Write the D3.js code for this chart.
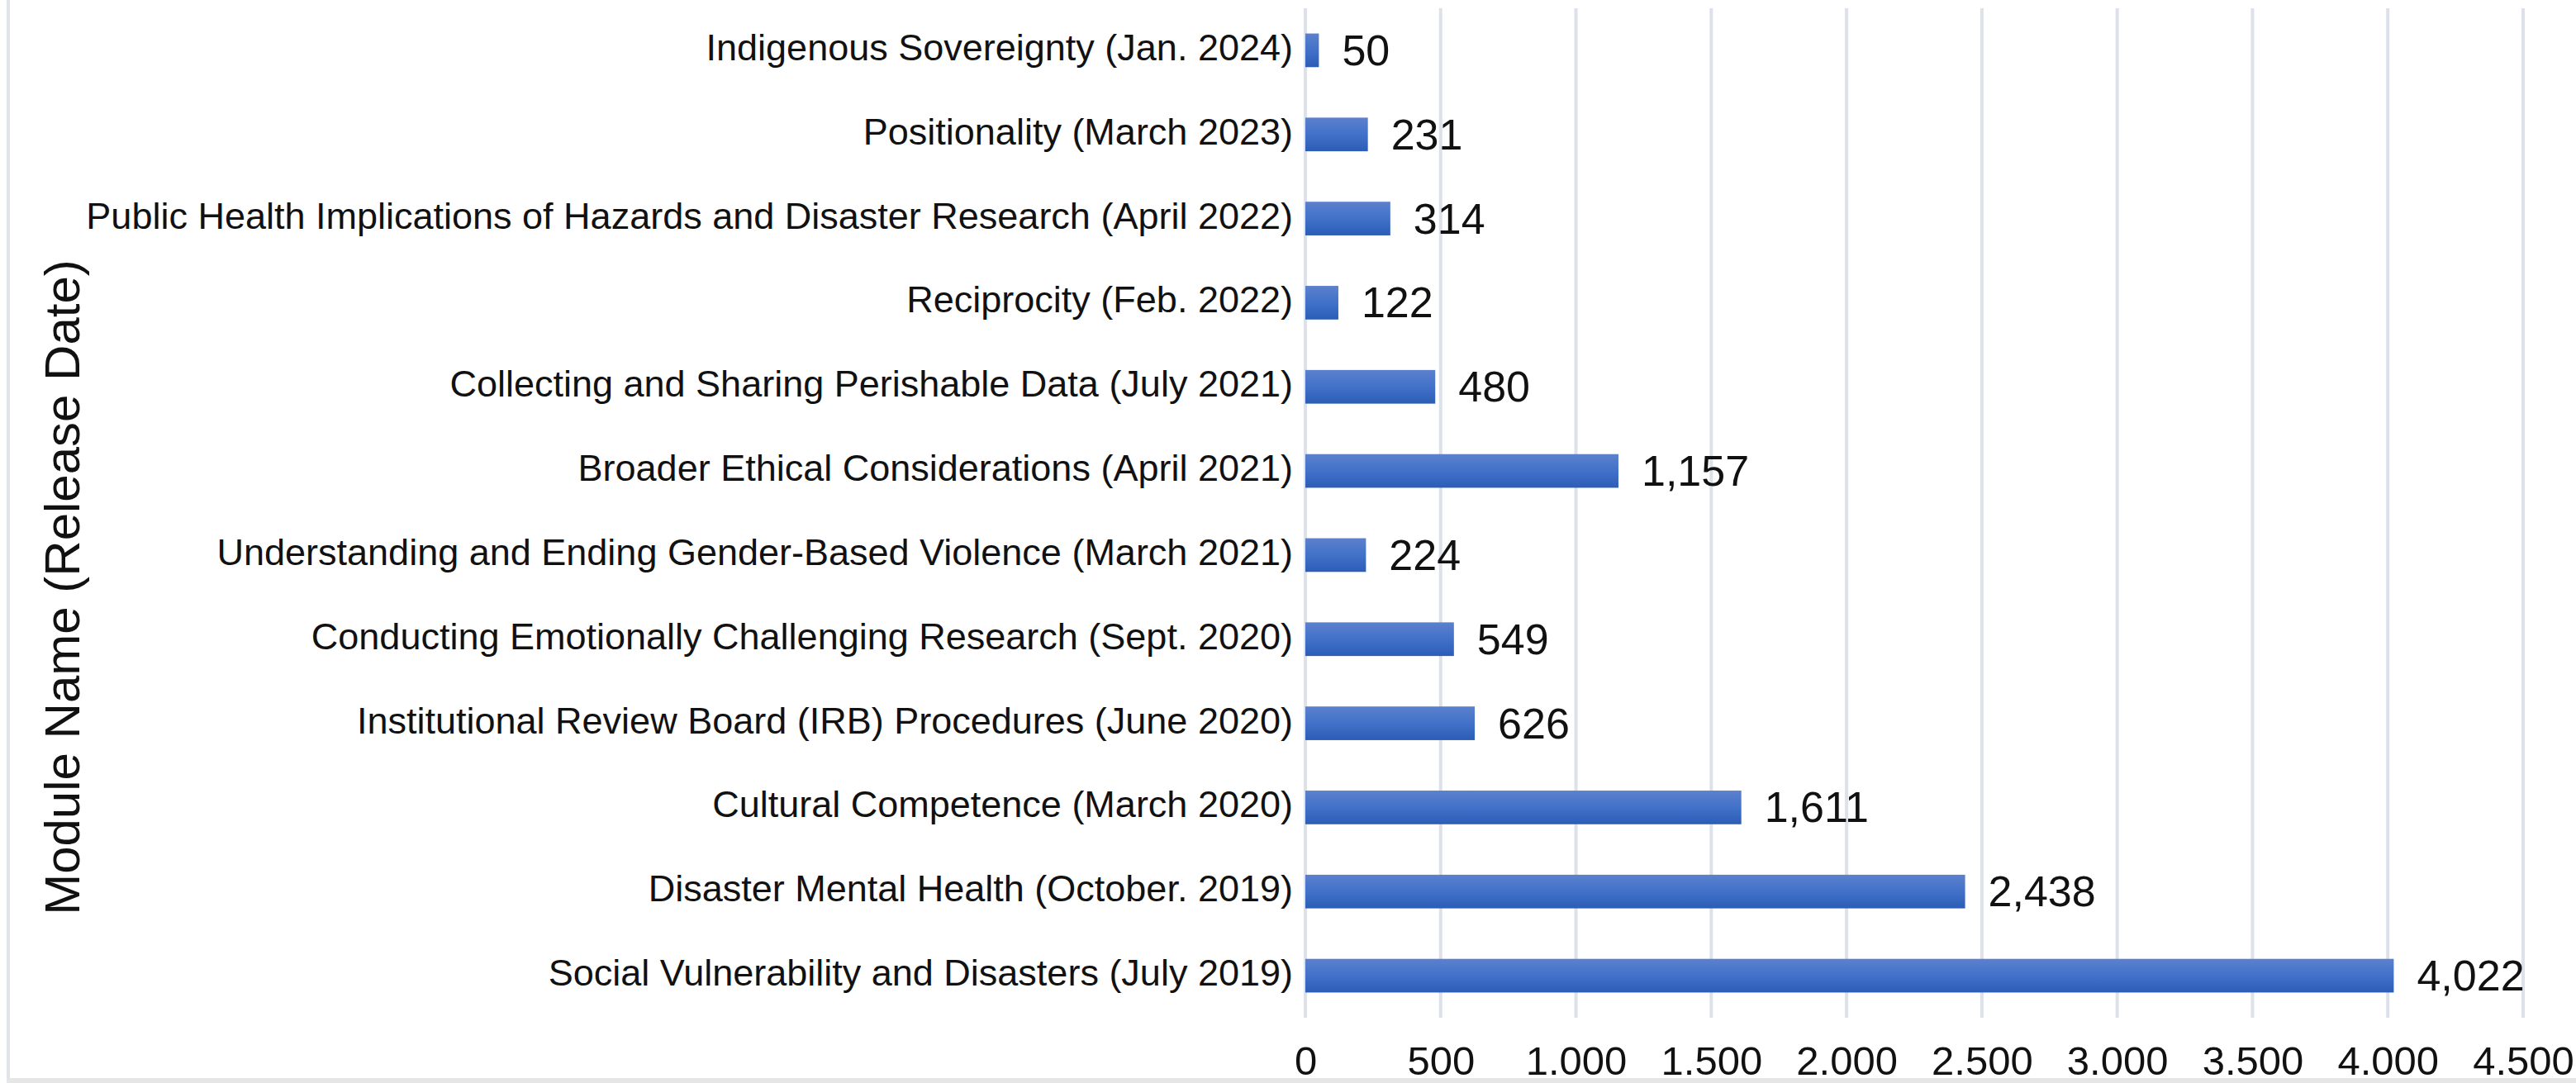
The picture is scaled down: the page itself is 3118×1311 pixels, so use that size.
<!DOCTYPE html>
<html>
<head>
<meta charset="utf-8">
<script src="https://cdn.jsdelivr.net/npm/d3@7"></script>
<style>
  body { margin: 0; background: #fff; }
  svg { display: block; }
  text { font-family: "Liberation Sans", Arial, sans-serif; fill: #111; }
</style>
</head>
<body>
<div id="chart"></div>
<script>
// Define SVG area dimensions
var svgWidth = 3118;
var svgHeight = 1311;

// Chart data, top bar first
var modules = [
  "Indigenous Sovereignty (Jan. 2024)",
  "Positionality (March 2023)",
  "Public Health Implications of Hazards and Disaster Research (April 2022)",
  "Reciprocity (Feb. 2022)",
  "Collecting and Sharing Perishable Data (July 2021)",
  "Broader Ethical Considerations (April 2021)",
  "Understanding and Ending Gender-Based Violence (March 2021)",
  "Conducting Emotionally Challenging Research (Sept. 2020)",
  "Institutional Review Board (IRB) Procedures (June 2020)",
  "Cultural Competence (March 2020)",
  "Disaster Mental Health (October. 2019)",
  "Social Vulnerability and Disasters (July 2019)"
];
var views = [50, 231, 314, 122, 480, 1157, 224, 549, 626, 1611, 2438, 4022];
var xTicks = [0, 500, 1000, 1500, 2000, 2500, 3000, 3500, 4000, 4500];
var yTitle = "Module Name (Release Date)";

// Define the plot area
var plot = { left: 1580, right: 3054, top: 10, bottom: 1232 };

var svg = d3.select("#chart")
  .append("svg")
  .attr("width", svgWidth)
  .attr("height", svgHeight);

// Gradient used by the bars
var grad = svg.append("defs")
  .append("linearGradient")
  .attr("id", "barGrad")
  .attr("x1", 0).attr("y1", 0)
  .attr("x2", 0).attr("y2", 1);
grad.append("stop").attr("offset", "0%").attr("stop-color", "#5c81cd");
grad.append("stop").attr("offset", "50%").attr("stop-color", "#4171c9");
grad.append("stop").attr("offset", "100%").attr("stop-color", "#2c5db6");

// Frame strips at left and bottom edges
svg.append("rect")
  .attr("x", 8).attr("y", 0)
  .attr("width", 4).attr("height", 1305)
  .attr("fill", "#dfe3ea");
svg.append("rect")
  .attr("x", 8).attr("y", 1305)
  .attr("width", svgWidth - 8).attr("height", 6)
  .attr("fill", "#e6e6e6");

// Scales
var xScale = d3.scaleLinear()
  .domain([0, 4500])
  .range([plot.left, plot.right]);

var yScale = d3.scaleBand()
  .domain(modules)
  .range([plot.top, plot.bottom])
  .paddingInner(0.6)
  .paddingOuter(0.3);

// tick labels use a dot as thousands separator, value labels a comma
var tickFormat = d3.formatLocale({ decimal: ",", thousands: ".", grouping: [3], currency: ["", ""] }).format(",d");
var valueFormat = d3.format(",d");

// vertical gridlines
svg.append("g")
  .selectAll("line")
  .data(xTicks)
  .enter()
  .append("line")
  .attr("x1", d => xScale(d))
  .attr("x2", d => xScale(d))
  .attr("y1", plot.top)
  .attr("y2", plot.bottom)
  .attr("stroke", "#dce1ea")
  .attr("stroke-width", 4);

// x axis tick labels
var bottomAxis = d3.axisBottom(xScale)
  .tickValues(xTicks)
  .tickFormat(tickFormat)
  .tickSize(0)
  .tickPadding(0);

var xAxis = svg.append("g")
  .attr("transform", `translate(0, ${plot.bottom})`)
  .call(bottomAxis);
xAxis.select(".domain").remove();
xAxis.selectAll("text")
  .attr("dy", null)
  .attr("y", 69)
  .style("font-size", "49px")
  .style("fill", "#111")
  .style("font-family", "'Liberation Sans', Arial, sans-serif");

// y axis category labels
var leftAxis = d3.axisLeft(yScale)
  .tickSize(0)
  .tickPadding(0);

var yAxis = svg.append("g")
  .attr("transform", `translate(1565, 0)`)
  .call(leftAxis);
yAxis.select(".domain").remove();
yAxis.selectAll("text")
  .attr("dy", null)
  .attr("y", 12)
  .style("font-size", "45px")
  .style("fill", "#111")
  .style("font-family", "'Liberation Sans', Arial, sans-serif");

// bars
svg.append("g")
  .selectAll("rect")
  .data(views)
  .enter()
  .append("rect")
  .attr("x", xScale(0))
  .attr("y", (d, i) => yScale(modules[i]))
  .attr("width", d => xScale(d) - xScale(0))
  .attr("height", yScale.bandwidth())
  .attr("fill", "url(#barGrad)");

// value labels next to each bar
svg.append("g")
  .selectAll("text")
  .data(views)
  .enter()
  .append("text")
  .attr("x", d => xScale(d) + 28)
  .attr("y", (d, i) => yScale(modules[i]) + yScale.bandwidth() / 2 + 18)
  .style("font-size", "52px")
  .text(d => valueFormat(d));

// y axis title
svg.append("text")
  .attr("transform", "translate(96, 711) rotate(-90)")
  .attr("text-anchor", "middle")
  .style("font-size", "60px")
  .text(yTitle);
</script>
</body>
</html>
